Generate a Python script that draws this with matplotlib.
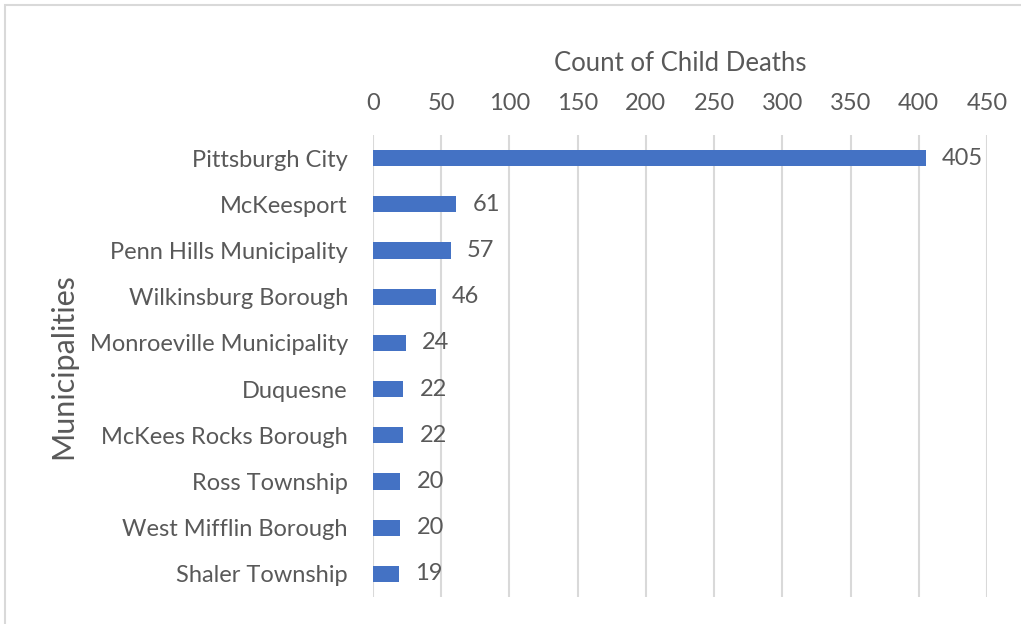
import matplotlib
matplotlib.use('Agg')
import matplotlib.pyplot as plt
from matplotlib.patches import Rectangle

municipalities = [
    'Pittsburgh City', 'McKeesport', 'Penn Hills Municipality',
    'Wilkinsburg Borough', 'Monroeville Municipality', 'Duquesne',
    'McKees Rocks Borough', 'Ross Township', 'West Mifflin Borough',
    'Shaler Township',
]
deaths = [405, 61, 57, 46, 24, 22, 22, 20, 20, 19]
x_ticks = [0, 50, 100, 150, 200, 250, 300, 350, 400, 450]

text_color = '#595959'
bar_color = '#4472C4'
grid_color = '#D9D9D9'

plt.rcParams['font.family'] = ['Lato', 'DejaVu Sans']

fig = plt.figure(figsize=(10.21, 6.24), dpi=100)
W, H = 1021, 624
# plot area in pixels: x 373..987, y 135..597
ax = fig.add_axes([373 / W, 1 - 597 / H, (987 - 373) / W, (597 - 135) / H])

# chart border (only top and left edges are inside the frame)
fig.patches.append(Rectangle((5 / W, -0.1), 1.2, 1 - 5 / H + 0.1,
                             transform=fig.transFigure, fill=False,
                             edgecolor='#D9D9D9', linewidth=1.5))

ypos = list(range(len(municipalities)))
ax.barh(ypos, deaths, height=0.35, color=bar_color, zorder=3)
for y, v in zip(ypos, deaths):
    ax.text(v + 12, y, str(v), va='center', ha='left', fontsize=17,
            color=text_color)

ax.set_xlim(0, 450)
ax.set_ylim(len(municipalities) - 0.5, -0.5)
ax.set_xticks(x_ticks)
ax.set_yticks(ypos)
ax.set_yticklabels(municipalities)
ax.xaxis.tick_top()
ax.xaxis.set_label_position('top')
ax.tick_params(axis='both', length=0, labelsize=17, labelcolor=text_color)
ax.tick_params(axis='x', pad=15)
ax.tick_params(axis='y', pad=18)
ax.grid(axis='x', color=grid_color, linewidth=1.5, zorder=0)
ax.set_axisbelow(True)
for s in ax.spines.values():
    s.set_visible(False)

ax.set_xlabel('Count of Child Deaths', fontsize=18.5, color=text_color, labelpad=16)
ax.set_ylabel('Municipalities', fontsize=22, color=text_color, labelpad=9)

fig.savefig('out.png', dpi=100)
